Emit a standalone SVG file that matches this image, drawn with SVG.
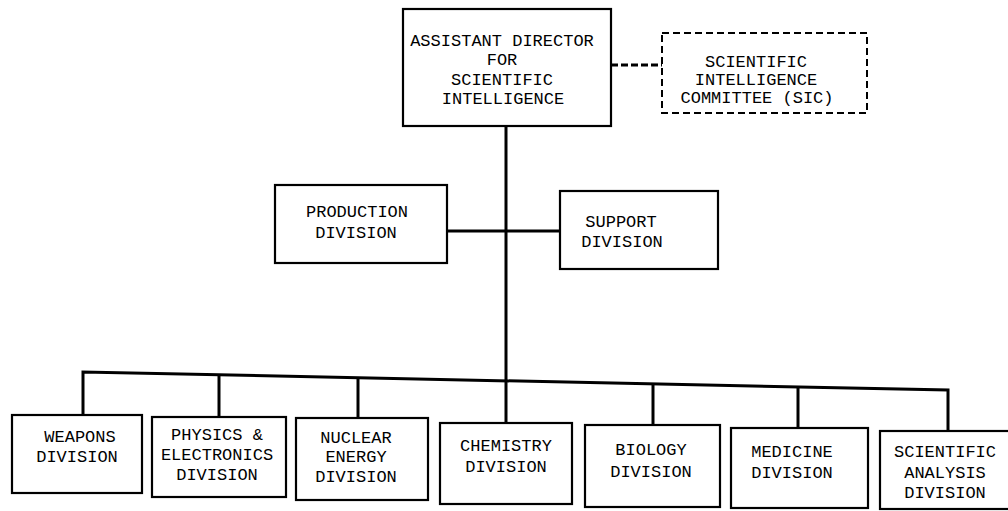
<svg xmlns="http://www.w3.org/2000/svg" width="1008" height="511" viewBox="0 0 1008 511">
<style>
.box{fill:#fff;stroke:#000;stroke-width:2.2}
.dbox{fill:#fff;stroke:#000;stroke-width:2;stroke-dasharray:7 4}
.ln{fill:none;stroke:#000;stroke-width:3}
.dl{fill:none;stroke:#000;stroke-width:3.2;stroke-dasharray:7 3}
text{font-family:"Liberation Mono","Courier New",monospace;font-size:17px;fill:#000;text-anchor:middle}
</style>
<rect width="1008" height="511" fill="#fff"/>
<g id="connectors">
<line class="dl" x1="611" y1="65" x2="662" y2="65"/>
<line class="ln" x1="506" y1="126" x2="506" y2="423"/>
<line class="ln" x1="447" y1="231" x2="560" y2="231"/>
<polyline class="ln" points="83,415 83,372 948,390 948,431"/>
<line class="ln" x1="219" y1="374" x2="219" y2="417"/>
<line class="ln" x1="358" y1="377" x2="358" y2="418"/>
<line class="ln" x1="653" y1="383" x2="653" y2="425"/>
<line class="ln" x1="798" y1="386" x2="798" y2="428"/>
</g>
<g id="asst-director">
<rect class="box" x="403" y="9" width="208" height="117"/>
<text x="502" y="46">ASSISTANT DIRECTOR</text>
<text x="502" y="65">FOR</text>
<text x="502" y="85">SCIENTIFIC</text>
<text x="503" y="104">INTELLIGENCE</text>
</g>
<g id="sic">
<rect class="dbox" x="662" y="33" width="205" height="80"/>
<text x="756" y="67">SCIENTIFIC</text>
<text x="756" y="85">INTELLIGENCE</text>
<text x="757" y="103">COMMITTEE (SIC)</text>
</g>
<g id="production">
<rect class="box" x="275" y="185" width="172" height="78"/>
<text x="357" y="217">PRODUCTION</text>
<text x="356" y="238">DIVISION</text>
</g>
<g id="support">
<rect class="box" x="560" y="191" width="158" height="78"/>
<text x="621" y="227">SUPPORT</text>
<text x="622" y="247">DIVISION</text>
</g>
<g id="weapons">
<rect class="box" x="12" y="415" width="130" height="78"/>
<text x="80" y="442">WEAPONS</text>
<text x="77" y="462">DIVISION</text>
</g>
<g id="physics">
<rect class="box" x="152" y="417" width="134" height="80"/>
<text x="217" y="440">PHYSICS &amp;</text>
<text x="217" y="460">ELECTRONICS</text>
<text x="217" y="480">DIVISION</text>
</g>
<g id="nuclear">
<rect class="box" x="296" y="418" width="132" height="82"/>
<text x="356" y="443">NUCLEAR</text>
<text x="356" y="462">ENERGY</text>
<text x="356" y="482">DIVISION</text>
</g>
<g id="chemistry">
<rect class="box" x="440" y="423" width="132" height="81"/>
<text x="506" y="451">CHEMISTRY</text>
<text x="506" y="472">DIVISION</text>
</g>
<g id="biology">
<rect class="box" x="585" y="425" width="135" height="82"/>
<text x="651" y="455">BIOLOGY</text>
<text x="651" y="477">DIVISION</text>
</g>
<g id="medicine">
<rect class="box" x="731" y="428" width="137" height="80"/>
<text x="792" y="457">MEDICINE</text>
<text x="792" y="478">DIVISION</text>
</g>
<g id="sci-analysis">
<rect class="box" x="880" y="431" width="140" height="78"/>
<text x="945" y="457">SCIENTIFIC</text>
<text x="945" y="478">ANALYSIS</text>
<text x="945" y="498">DIVISION</text>
</g>
</svg>
